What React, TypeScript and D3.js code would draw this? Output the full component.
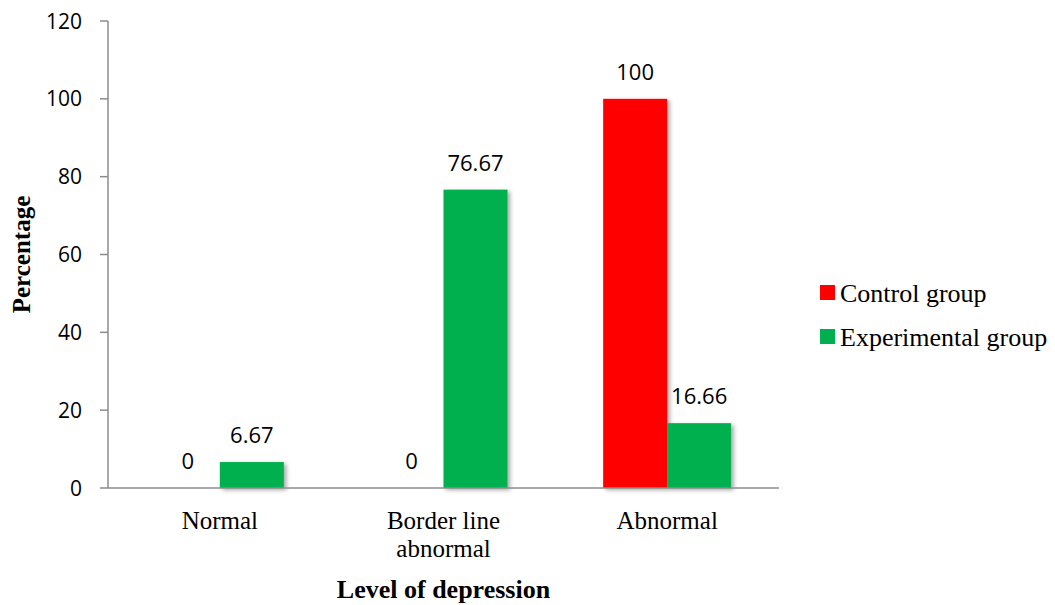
import React from "react";
import * as d3 from "d3";

const categories: string[][] = [["Normal"], ["Border line", "abnormal"], ["Abnormal"]];
const seriesNames = ["Control group", "Experimental group"];
const seriesColors = ["#FF0000", "#00B050"];
const controlValues = [0, 0, 100];
const experimentalValues = [6.67, 76.67, 16.66];
const yTicks = [0, 20, 40, 60, 80, 100, 120];

const W = 1055;
const H = 605;
const margin = { left: 108, right: 276, top: 21, bottom: 117 };

export default function App() {
  const x = d3
    .scaleBand<number>()
    .domain(d3.range(categories.length))
    .range([margin.left, W - margin.right])
    .paddingInner(0)
    .paddingOuter(0);
  const y = d3.scaleLinear().domain([0, 120]).range([H - margin.bottom, margin.top]);
  const barW = 64;
  const series = [controlValues, experimentalValues];

  const numFont = "'Open Sans', sans-serif";
  const serif = "'Liberation Serif', 'Times New Roman', serif";
  const axisColor = "#8c8c8c";

  return (
    <svg
      width={W}
      height={H}
      style={{ position: "absolute", left: 0, top: 0, display: "block", background: "#fff" }}
    >
      <defs>
        <filter id="barShadow" x="-20%" y="-20%" width="150%" height="150%">
          <feDropShadow dx="2.5" dy="2" stdDeviation="2" floodColor="#000" floodOpacity="0.35" />
        </filter>
      </defs>

      {/* bars */}
      {series.map((vals, si) =>
        vals.map((v, ci) => {
          const cx = (x(ci) as number) + x.bandwidth() / 2;
          const bx = cx - barW + si * barW;
          if (v <= 0) return null;
          return (
            <rect
              key={`b-${si}-${ci}`}
              x={bx}
              y={y(v)}
              width={barW}
              height={y(0) - y(v)}
              fill={seriesColors[si]}
              filter="url(#barShadow)"
            />
          );
        })
      )}

      {/* value labels */}
      {series.map((vals, si) =>
        vals.map((v, ci) => {
          const cx = (x(ci) as number) + x.bandwidth() / 2;
          const lx = cx - barW / 2 + si * barW;
          return (
            <text
              key={`l-${si}-${ci}`}
              x={lx}
              y={y(v) - 19}
              textAnchor="middle"
              fontFamily={numFont}
              fontSize={22}
              fill="#000"
            >
              {String(v)}
            </text>
          );
        })
      )}

      {/* y axis */}
      <line x1={margin.left} x2={margin.left} y1={y(120)} y2={y(0)} stroke={axisColor} strokeWidth={1.5} />
      {yTicks.map((t) => (
        <g key={`t-${t}`}>
          <line x1={margin.left - 8} x2={margin.left} y1={y(t)} y2={y(t)} stroke={axisColor} strokeWidth={1.5} />
          <text
            x={margin.left - 26}
            y={y(t)}
            dy="0.36em"
            textAnchor="end"
            fontFamily={numFont}
            fontSize={21}
            fill="#000"
          >
            {t}
          </text>
        </g>
      ))}

      {/* x axis */}
      <line x1={margin.left} x2={W - margin.right} y1={y(0)} y2={y(0)} stroke={axisColor} strokeWidth={1.5} />
      {categories.map((lines, ci) => {
        const cx = (x(ci) as number) + x.bandwidth() / 2;
        return (
          <text key={`c-${ci}`} textAnchor="middle" fontFamily={serif} fontSize={25} fill="#000">
            {lines.map((ln, li) => (
              <tspan key={li} x={cx} y={529 + li * 28}>
                {ln}
              </tspan>
            ))}
          </text>
        );
      })}

      {/* axis titles */}
      <text
        x={(margin.left + W - margin.right) / 2}
        y={598}
        textAnchor="middle"
        fontFamily={serif}
        fontWeight="bold"
        fontSize={26}
        fill="#000"
      >
        Level of depression
      </text>
      <text
        transform={`translate(30, ${(y(0) + y(120)) / 2}) rotate(-90)`}
        textAnchor="middle"
        fontFamily={serif}
        fontWeight="bold"
        fontSize={25}
        fill="#000"
      >
        Percentage
      </text>

      {/* legend */}
      {seriesNames.map((name, i) => (
        <g key={`lg-${i}`} transform={`translate(820, ${293 + i * 44})`}>
          <rect x={0} y={-8} width={15} height={15} fill={seriesColors[i]} />
          <text x={20} y={9} fontFamily={serif} fontSize={26} fill="#000">
            {name}
          </text>
        </g>
      ))}
    </svg>
  );
}
